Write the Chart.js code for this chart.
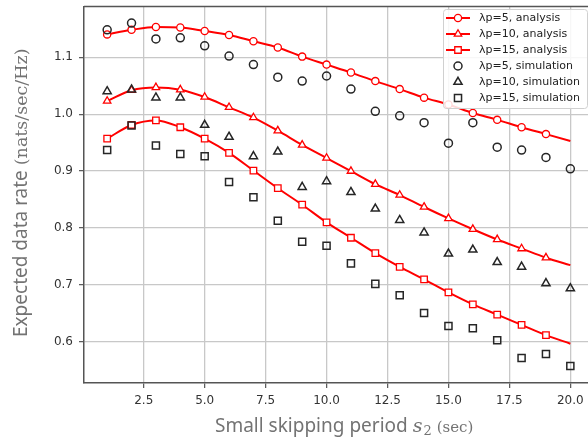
<!DOCTYPE html>
<html>
<head>
<meta charset="utf-8">
<script src="https://cdn.jsdelivr.net/npm/chart.js@4.4.1/dist/chart.umd.min.js"></script>
<style>
html, body { margin: 0; padding: 0; background: #fff; overflow: hidden; }
#wrap { width: 588px; height: 443px; overflow: hidden; }
</style>
</head>
<body>
<div id="wrap"><canvas id="rateChart" width="600" height="443"></canvas></div>
<script>
// Small skipping period s2 (sec)
const periods = [1, 2, 3, 4, 5, 6, 7, 8, 9, 10, 11, 12, 13, 14, 15, 16, 17, 18, 19, 20];

// Expected data rate, analytical curves
const analysis5  = [1.140, 1.148, 1.153, 1.152, 1.146, 1.139, 1.128, 1.117, 1.101, 1.087, 1.073, 1.058, 1.044, 1.029, 1.017, 1.002, 0.990, 0.977, 0.965, 0.953];
const analysis10 = [1.023, 1.042, 1.047, 1.043, 1.030, 1.012, 0.994, 0.971, 0.946, 0.923, 0.900, 0.877, 0.858, 0.837, 0.817, 0.798, 0.780, 0.764, 0.748, 0.735];
const analysis15 = [0.957, 0.981, 0.989, 0.977, 0.957, 0.932, 0.901, 0.870, 0.841, 0.810, 0.783, 0.756, 0.732, 0.710, 0.687, 0.666, 0.648, 0.630, 0.612, 0.597];

// Expected data rate, simulation runs
const sim5  = [1.148, 1.160, 1.132, 1.134, 1.120, 1.102, 1.087, 1.065, 1.058, 1.067, 1.044, 1.005, 0.997, 0.985, 0.949, 0.985, 0.942, 0.937, 0.924, 0.904];
const sim10 = [1.040, 1.043, 1.029, 1.029, 0.981, 0.960, 0.926, 0.934, 0.872, 0.882, 0.863, 0.834, 0.814, 0.792, 0.755, 0.762, 0.740, 0.732, 0.703, 0.694];
const sim15 = [0.937, 0.980, 0.945, 0.930, 0.926, 0.881, 0.854, 0.813, 0.776, 0.769, 0.738, 0.702, 0.682, 0.651, 0.628, 0.624, 0.603, 0.572, 0.579, 0.558];

const xTicks = [2.5, 5, 7.5, 10, 12.5, 15, 17.5, 20];
const yTicks = [0.6, 0.7, 0.8, 0.9, 1.0, 1.1];

const RED = '#ff0000';
const DARK = '#262626';
const SIZES = { circle: 3.6, triangle: 4.3, rect: 4.6 };

const toPoints = values => periods.map((p, i) => ({ x: p, y: values[i] }));

function analysisSet(label, values, shape) {
    const r = SIZES[shape];
    return {
        label,
        data: toPoints(values),
        showLine: true,
        borderColor: RED,
        borderWidth: 2,
        cubicInterpolationMode: 'monotone',
        pointStyle: shape,
        // last sample only closes the curve, no marker there
        pointRadius: ctx => ctx.dataIndex === periods.length - 1 ? 0 : r,
        pointBorderColor: RED,
        pointBackgroundColor: '#fff',
        pointBorderWidth: 1.3,
        order: 2
    };
}

function simulationSet(label, values, shape) {
    return {
        label,
        data: toPoints(values),
        showLine: false,
        pointStyle: shape,
        pointRadius: SIZES[shape] + 0.4,
        pointBorderColor: DARK,
        pointBackgroundColor: 'rgba(0,0,0,0)',
        pointBorderWidth: 1.5,
        order: 1
    };
}

function drawMarker(ctx, shape, x, y, r) {
    ctx.beginPath();
    if (shape === 'circle') {
        ctx.arc(x, y, r, 0, Math.PI * 2);
    } else if (shape === 'triangle') {
        for (let k = 0; k < 3; k++) {
            const a = k * 2 * Math.PI / 3;
            const px = x + Math.sin(a) * r, py = y - Math.cos(a) * r;
            k === 0 ? ctx.moveTo(px, py) : ctx.lineTo(px, py);
        }
        ctx.closePath();
    } else {
        const s = Math.SQRT1_2 * r;
        ctx.rect(x - s, y - s, 2 * s, 2 * s);
    }
}

// Boxed legend in the upper right corner of the plot
const legendBox = {
    id: 'legendBox',
    afterDraw(chart) {
        const ctx = chart.ctx;
        const bx = 443, by = 9, bw = 144, bh = 99;
        ctx.save();
        ctx.fillStyle = 'rgba(255,255,255,0.85)';
        ctx.strokeStyle = '#d0d0d0';
        ctx.lineWidth = 1;
        ctx.beginPath();
        ctx.roundRect(bx + 0.5, by + 0.5, bw, bh, 3);
        ctx.fill();
        ctx.stroke();

        ctx.font = '11px "DejaVu Sans"';
        ctx.textBaseline = 'middle';
        chart.data.datasets.forEach((ds, i) => {
            const y = by + 9 + i * 16;
            const mx = 458;
            if (ds.showLine) {
                ctx.strokeStyle = ds.borderColor;
                ctx.lineWidth = ds.borderWidth;
                ctx.beginPath();
                ctx.moveTo(446, y);
                ctx.lineTo(470, y);
                ctx.stroke();
            }
            const r = SIZES[ds.pointStyle] + (ds.showLine ? 0 : 0.4);
            drawMarker(ctx, ds.pointStyle, mx, y, r);
            ctx.fillStyle = ds.pointBackgroundColor;
            ctx.fill();
            ctx.strokeStyle = ds.pointBorderColor;
            ctx.lineWidth = ds.pointBorderWidth;
            ctx.stroke();
            ctx.fillStyle = '#222';
            ctx.fillText(ds.label, 479, y + 0.5);
        });
        ctx.restore();
    }
};

// Top spine and the two axis titles (mixed sans / serif runs)
const frameAndTitles = {
    id: 'frameAndTitles',
    afterDraw(chart) {
        const { ctx, chartArea } = chart;
        ctx.save();
        ctx.strokeStyle = '#555';
        ctx.lineWidth = 1.5;
        ctx.beginPath();
        ctx.moveTo(chartArea.left, chartArea.top);
        ctx.lineTo(chartArea.right, chartArea.top);
        ctx.stroke();

        ctx.fillStyle = '#737373';
        ctx.textBaseline = 'alphabetic';

        // x title
        let x = 215;
        const base = 432;
        ctx.font = '19px "Noto Sans"';
        ctx.fillText('Small skipping period ', x, base);
        x += ctx.measureText('Small skipping period ').width;
        ctx.font = 'italic 19px "DejaVu Serif"';
        ctx.fillText('s', x, base);
        x += ctx.measureText('s').width;
        ctx.font = '13px "DejaVu Serif"';
        ctx.fillText('2', x + 1, base + 3);
        x += ctx.measureText('2').width + 6;
        ctx.font = '15px "DejaVu Serif"';
        ctx.fillText('(sec)', x, base);

        // y title, rotated
        ctx.translate(27, 337);
        ctx.rotate(-Math.PI / 2);
        ctx.font = '19px "Noto Sans"';
        ctx.fillText('Expected data rate ', 0, 0);
        const w = ctx.measureText('Expected data rate ').width;
        ctx.font = '17.5px "DejaVu Serif"';
        ctx.fillText('(nats/sec/Hz)', w, 0);
        ctx.restore();
    }
};

const tickFont = { family: 'DejaVu Sans', size: 12 };

new Chart(document.getElementById('rateChart'), {
    type: 'scatter',
    data: {
        datasets: [
            analysisSet('λp=5, analysis', analysis5, 'circle'),
            analysisSet('λp=10, analysis', analysis10, 'triangle'),
            analysisSet('λp=15, analysis', analysis15, 'rect'),
            simulationSet('λp=5, simulation', sim5, 'circle'),
            simulationSet('λp=10, simulation', sim10, 'triangle'),
            simulationSet('λp=15, simulation', sim15, 'rect')
        ]
    },
    options: {
        responsive: false,
        animation: false,
        devicePixelRatio: 1,
        layout: { padding: { top: 4, right: 6, left: 0, bottom: 0 } },
        plugins: {
            legend: { display: false },
            tooltip: { enabled: false }
        },
        scales: {
            x: {
                type: 'linear',
                min: 0.05,
                max: 20.95,
                afterBuildTicks: s => { s.ticks = xTicks.map(v => ({ value: v })); },
                afterFit: s => { s.height = 60; s.paddingLeft = 0; s.paddingRight = 0; },
                ticks: {
                    callback: v => v.toFixed(1),
                    font: tickFont,
                    color: '#333',
                    padding: 6,
                    maxRotation: 0,
                    autoSkip: false
                },
                grid: { color: '#c8c8c8', lineWidth: 1.3, tickColor: '#555', tickLength: 5, tickWidth: 1.2 },
                border: { color: '#555', width: 1.5 }
            },
            y: {
                type: 'linear',
                min: 0.528,
                max: 1.189,
                afterBuildTicks: s => { s.ticks = yTicks.map(v => ({ value: v })); },
                afterFit: s => { s.width = 84; s.paddingTop = 0; s.paddingBottom = 0; },
                ticks: {
                    callback: v => v.toFixed(1),
                    font: tickFont,
                    color: '#333',
                    padding: 6
                },
                grid: { color: '#c8c8c8', lineWidth: 1.3, tickColor: '#555', tickLength: 5, tickWidth: 1.2 },
                border: { color: '#555', width: 1.5 }
            }
        }
    },
    plugins: [legendBox, frameAndTitles]
});
</script>
</body>
</html>
